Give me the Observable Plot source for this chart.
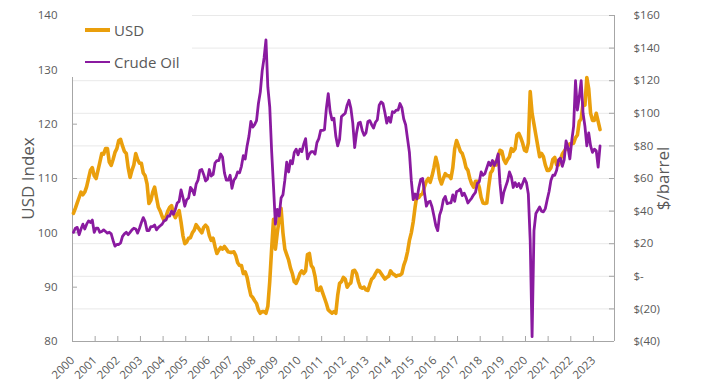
<!DOCTYPE html>
<html><head><meta charset="utf-8">
<script src="https://cdn.jsdelivr.net/npm/d3@7"></script>
<script src="https://cdn.jsdelivr.net/npm/@observablehq/plot@0.6"></script>
<style>
body{margin:0;background:#fff;}
#wrap{position:relative;width:701px;height:392px;font-family:"Open Sans",sans-serif;}
#legend{position:absolute;left:68px;top:0;width:124px;height:77px;background:#fff;}
.item{position:absolute;left:17px;height:20px;display:flex;align-items:center;font-size:15px;color:#595959;white-space:nowrap;}
.sw{width:25px;height:3px;margin-right:4px;}
</style></head><body><div id="wrap"></div>
<script>
const startYear = 2000;
const seriesNames = ["USD", "Crude Oil"];
const seriesColors = ["#EA9F0C", "#8A1AA0"];
const usdTicks = [80, 90, 100, 110, 120, 130, 140];
const priceTicks = [-40, -20, 0, 20, 40, 60, 80, 100, 120, 140, 160];
const priceTickLabels = ["$(40)", "$(20)", "$-", "$20", "$40", "$60", "$80", "$100", "$120", "$140", "$160"];
const yearTicks = [2000,2001,2002,2003,2004,2005,2006,2007,2008,2009,2010,2011,2012,2013,2014,2015,2016,2017,2018,2019,2020,2021,2022,2023];

// monthly USD index, Jan 2000 - Apr 2023
const usdMonthly = [
103.6,104.5,105.5,106.5,107.5,107,107.5,108.5,110,111.5,112,110.5,
110,111.5,113,114.6,114.5,115.5,115.5,113,112.4,113.5,114.8,115.5,
117,117.2,116,115,114.6,112,110.2,111.5,112.5,114.6,113.5,112.8,
112.8,111,110.5,109,105.4,106,107.5,108.4,106.5,104.7,104,103,
102.3,103,104,104.7,105,103.5,102.8,103.5,104.1,102,99.5,98,
98.3,99,99.1,100,100.5,101.5,101,100.5,100,101,101.4,101,
99.5,98.6,99,97.5,96.2,96.8,97.3,97,97.5,97,96.5,96.4,
96.4,96.5,95.8,94.5,94,94,92.5,92.8,91.8,90,88.5,88.1,
87.5,87,85.8,85.2,85.5,85.5,85.2,86.5,91,97,102.5,97,
100,102.5,104.5,100,97,96,95,93.5,92.5,91,90.7,91.5,
92.5,93,92.5,93,96,96.2,94,93.5,92,89.5,89.4,90,
89,88,87,85.8,85.5,85.2,85.5,85.2,88.5,90.7,91,91.8,
91.5,90,90.5,90.8,93,93.1,92.5,91,90,89.8,90,89.5,
89.4,90.5,91.5,91.8,92.5,93.1,93,92.5,92,91.5,91.8,92,
93,92.5,92.3,92,92.2,92.2,92.5,94,95,96.5,98.6,100,
102,104.7,107,106.5,107,107.2,108.5,109.5,110,109.3,110.5,112,
113.9,112.5,110,109,110,110.9,110.5,110.5,110,112,115.5,117,
116,115,114.6,113.5,112,111.5,110,109,108.4,109.5,109.5,108.4,
106.5,105.5,105.4,105.5,108.5,111,111.5,113,112.5,114,115.2,115,
113.5,112.8,113.5,114,115.5,115,115.5,118,118.3,117.5,116.5,115.2,
115,116.5,126,122,120,118,116,114,114.6,114,112.5,111.5,
111.5,112,113.5,113.9,112.5,112.5,113.5,114.5,115,115.5,116,116.4,
116.4,116.5,117.5,118,120.5,121,123.8,123.5,128.6,126.5,122,120.7,
120.7,122,120.5,119
];

// monthly crude oil, $/barrel, Jan 2000 - Apr 2023
const crudeMonthly = [
27,29.5,30,25.5,29,32,29,32,34,33,34.5,27,
29.5,29.5,27,27.5,28.5,27.5,26.5,27,26,22,18.5,19.5,
19.5,20.5,24.5,26,27,25.5,27,28.5,29.5,29,26.5,29.5,
33,36,33.5,28,28,30.5,30.5,31.5,28.5,30,31,32,
34,34.5,37,37,40,38,41,45,46,53,48.5,43,
47,48,54.5,53,50,56.5,59,65,65.5,62.5,58.5,59.5,
65.5,61.5,62.5,69.5,71,71,75,73,63.5,59,59,62,
54,59,60.5,64,63.5,67.5,74,72,80,86,95,91.5,
93,95.5,106,113,126,134,145,116,104,77,55,32,
41,37,48,50,59,70,64,71,69,76,78,74.5,
78,76.5,81,84.5,72,75,76.5,76.5,75,82,84.5,89.5,
89.5,90,103,112,101,96,97,86,80,84,98,99,
100,105,108,103,94,79,88,94,94.5,89.5,86.5,88,
95,95.5,93,91,94.5,96,105,107,106,100.5,94,97.5,
94.5,101,100.5,102,102,106,103.5,96.5,93,84.5,76,59,
47,50.5,47.5,54.5,59.5,60,51,43,45.5,46,42.5,37,
31,28,37.5,41,47,49,44.5,45,45,50,46,52,
52.5,53.5,49.5,51,48.5,45,46.5,48,50,51.5,57,58,
64,62,63,66.5,70,68,71,68,70.5,75,57,45,
51.5,55,58.5,64,61,54.5,57.5,55,57,54,57,60,
57.5,50.5,22,-37,28,38.5,40.5,42.5,40,39.5,41.5,47,
52,59,62,62,65,71.5,72.5,67.5,71.5,83,79,72,
83,92,120,102,110,120,100,92,80,88,80,76,
78,77,67,80
];

const monthX = i => startYear + (i + 0.5) / 12;
// map $/barrel onto USD-index axis: $(40)->80, $160->140
const toY = p => 80 + (p + 40) * 0.3;

const usdData = usdMonthly.map((v, i) => ({x: monthX(i), y: v}));
const crudeData = crudeMonthly.map((v, i) => ({x: monthX(i), y: toY(v)}));

const axisColor = "#A6A6A6";
const textColor = "#595959";
const frameW = 701 - 72 - 87, frameH = 392 - 15 - 51;

const chart = Plot.plot({
  width: 701, height: 392,
  marginLeft: 72, marginRight: 87, marginTop: 15, marginBottom: 51,
  style: {fontFamily: "Open Sans, sans-serif", fontSize: "11.5px", color: textColor, background: "#fff"},
  x: {domain: [2000, 2023.93]},
  y: {domain: [80, 140]},
  marks: [
    Plot.gridY(priceTicks.map(toY), {stroke: "#E9E9E9", strokeOpacity: 1}),
    Plot.ruleY([80], {stroke: axisColor}),
    Plot.ruleX([2000], {stroke: axisColor}),
    Plot.ruleX([2023.93], {stroke: axisColor}),
    Plot.tickY(usdTicks, {y: d => d, stroke: axisColor, insetRight: frameW - 5}),
    Plot.tickY(priceTicks, {y: d => toY(d), stroke: axisColor, insetLeft: frameW - 5}),
    Plot.tickX(yearTicks, {x: d => d, stroke: axisColor, insetTop: frameH - 5}),
    Plot.axisY({ticks: usdTicks, tickSize: 0, tickPadding: 15, label: null}),
    Plot.axisY({anchor: "right", ticks: priceTicks.map(toY), tickFormat: (d, i) => priceTickLabels[i], tickSize: 0, tickPadding: 19, label: null}),
    Plot.axisX({ticks: yearTicks, tickFormat: d => String(d), tickRotate: -45, tickSize: 0, tickPadding: 17, label: null}),
    Plot.text(["USD Index"], {text: d => d, frameAnchor: "left", textAnchor: "middle", rotate: -90, dx: -44, fontSize: 17, fill: textColor}),
    Plot.text(["$/barrel"], {text: d => d, frameAnchor: "right", textAnchor: "middle", rotate: -90, dx: 49, fontSize: 17, fill: textColor}),
    Plot.line(usdData, {x: "x", y: "y", stroke: seriesColors[0], strokeWidth: 3.6, curve: "linear"}),
    Plot.line(crudeData, {x: "x", y: "y", stroke: seriesColors[1], strokeWidth: 2.8, curve: "linear"})
  ]
});

const wrap = document.getElementById("wrap");
wrap.appendChild(chart);
const legend = document.createElement("div");
legend.id = "legend";
seriesNames.forEach((name, i) => {
  const item = document.createElement("div");
  item.className = "item";
  item.style.top = (i === 0 ? 20 : 52) + "px";
  const sw = document.createElement("span");
  sw.className = "sw";
  sw.style.background = seriesColors[i];
  sw.style.height = i === 0 ? "3.3px" : "2.4px";
  const t = document.createElement("span");
  t.textContent = name;
  item.appendChild(sw);
  item.appendChild(t);
  legend.appendChild(item);
});
wrap.appendChild(legend);
</script>
</body></html>
